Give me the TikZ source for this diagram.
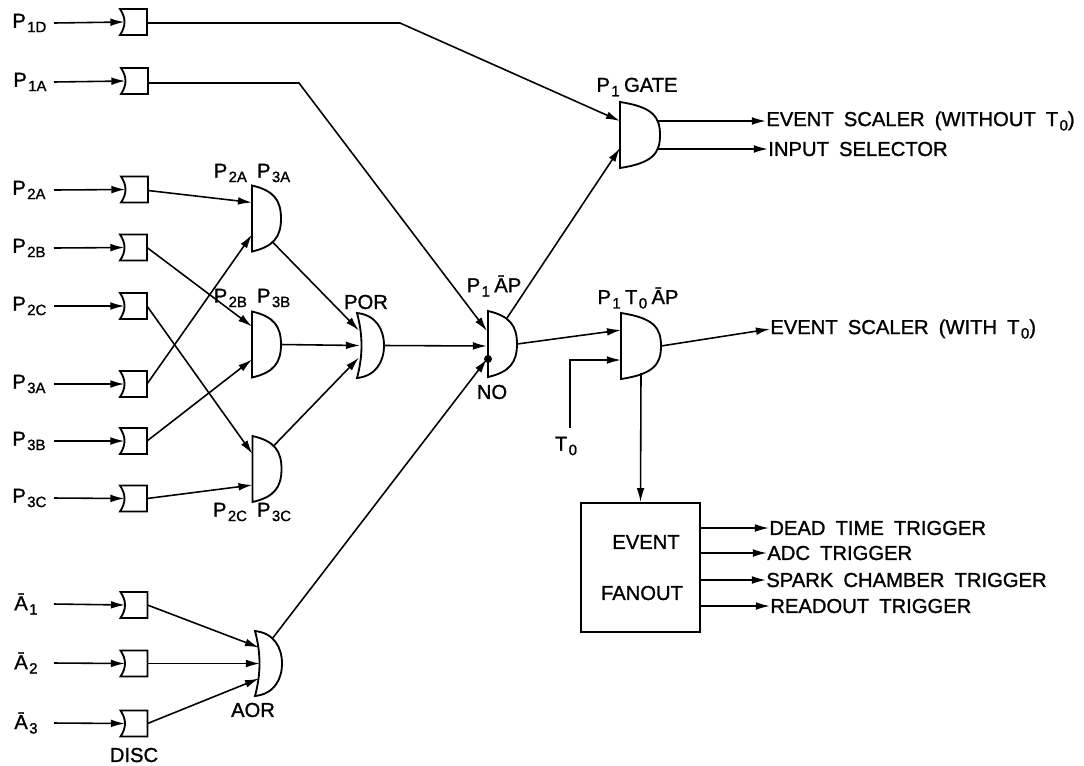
\documentclass[tikz,border=0pt]{standalone}
\usepackage{fontspec}
\setmainfont{Liberation Sans}[BoldFont={Liberation Sans},BoldFeatures={FakeBold=1.2}]
\usepackage{tikz}
\usetikzlibrary{arrows.meta, calc}

\newcommand{\lblfont}{\fontsize{11.5}{13}\bfseries\selectfont\setlength{\spaceskip}{.5em}}
\tikzset{
  wire/.style={line width=0.9pt},
  sig/.style={wire,-{Latex[length=8pt,width=4.4pt]}},
  lbl/.style={inner sep=0pt,font=\lblfont,anchor=west},
  shp/.style={line width=1.05pt,fill=white},
  pin/.style={inner sep=0pt,outer sep=0pt}
}
% subscript as printed
\newcommand{\subt}[1]{\hspace{0.8pt}\raisebox{-2.5pt}{\fontsize{8.5}{9}\bfseries\selectfont #1}}
% discriminator box, hollow on its input side
\newcommand{\discbox}[2]{
  \node[pin,minimum width=0.54cm,minimum height=0.52cm] (#1) at (#2) {};
  \draw[shp] (#1.north west) .. controls ($(#1.west)+(6,-4)$) and ($(#1.west)+(6,4)$) .. (#1.south west)
    -- (#1.south east) -- (#1.north east) -- cycle;
  \coordinate (#1-in) at ($(#1.west)+(4.5,0)$);
}
% and gate: flat back, round nose
\newcommand{\andgate}[3]{
  \node[pin,minimum width=#3cm,minimum height=1.32cm] (#1) at (#2) {};
  \draw[shp] (#1.north west) .. controls ($(#1.north east)+(-7,5)$) and ($(#1.east)+(0,-18)$) .. (#1.east)
    .. controls ($(#1.east)+(0,18)$) and ($(#1.south east)+(-7,-5)$) .. (#1.south west) -- cycle;
}
% or gate: hollow back, round nose
\newcommand{\orgate}[2]{
  \node[pin,minimum width=0.54cm,minimum height=1.3cm] (#1) at (#2) {};
  \draw[shp] (#1.north west) .. controls ($(#1.north east)+(-8,2)$) and ($(#1.east)+(0,-16)$) .. (#1.east)
    .. controls ($(#1.east)+(0,16)$) and ($(#1.south east)+(-8,-2)$) .. (#1.south west)
    .. controls ($(#1.west)+(6,10)$) and ($(#1.west)+(6,-10)$) .. (#1.north west) -- cycle;
}

\begin{document}
\begin{tikzpicture}[x=0.02cm,y=-0.02cm]
  \useasboundingbox (0,0) rectangle (1084,765);
  \coordinate (inx) at (54,0);

  % Input labels
  \node[lbl] (lP1D) at (12,23) {P\subt{1D}};
  \node[lbl] (lP1A) at (13,82) {P\subt{1A}};
  \node[lbl] (lP2A) at (12,190) {P\subt{2A}};
  \node[lbl] (lP2B) at (12,248) {P\subt{2B}};
  \node[lbl] (lP2C) at (12,306) {P\subt{2C}};
  \node[lbl] (lP3A) at (12,384) {P\subt{3A}};
  \node[lbl] (lP3B) at (12,441) {P\subt{3B}};
  \node[lbl] (lP3C) at (12,498) {P\subt{3C}};
  \node[lbl] (lA1) at (14,604) {Ā\subt{1}};
  \node[lbl] (lA2) at (14,663) {Ā\subt{2}};
  \node[lbl] (lA3) at (14,723) {Ā\subt{3}};

  % Discriminators
  \discbox{dP1D}{133.5,22}
  \discbox{dP1A}{134.5,81}
  \discbox{dP2A}{134.5,189.5}
  \discbox{dP2B}{133.5,247.5}
  \discbox{dP2C}{133.5,306}
  \discbox{dP3A}{133.5,384}
  \discbox{dP3B}{133.5,441}
  \discbox{dP3C}{133.5,498.5}
  \discbox{dA1}{134,605}
  \discbox{dA2}{134,663.5}
  \discbox{dA3}{134,723.5}

  % Gates
  \andgate{g2A}{266.5,218.5}{0.58}
  \andgate{g2B}{266.5,344.5}{0.58}
  \andgate{g2C}{267,469}{0.58}
  \orgate{gPOR}{370.5,345.5}
  \orgate{gAOR}{268.5,663.5}
  \andgate{gAP}{502.5,344}{0.58}
  \andgate{gGATE}{640,135}{0.8}
  \andgate{gT0}{641,346}{0.8}
  \node[draw,line width=1.05pt,minimum width=2.38cm,minimum height=2.58cm,inner sep=0pt] (fan) at (640.5,567.5) {};

  % Inputs
  \foreach \a/\b in {lP1D/dP1D,lP1A/dP1A,lP2A/dP2A,lP2B/dP2B,lP2C/dP2C,lP3A/dP3A,lP3B/dP3B,lP3C/dP3C,lA1/dA1,lA2/dA2,lA3/dA3}
    \draw[sig] (\a.east -| inx) -- (\b-in);

  % Scaler side
  \coordinate (bP1D) at (400,23);
  \coordinate (bP1A) at (299,83);
  \draw[sig] (dP1D.east |- bP1D) -- (bP1D) -- ($(gGATE.west)+(0,-14)$);
  \draw[sig] (dP1A.east |- bP1A) -- (bP1A) -- ($(gAP.west)+(-1,-13)$);
  \draw[sig] ($(gAP.north east)+(-10,7)$) -- ($(gGATE.west)+(0,13)$);

  % Coincidences
  \draw[sig] ($(dP2A.east)+(0,1)$) -- ($(g2A.west)+(0,-16)$);
  \draw[sig] (dP2B.east) -- ($(g2B.west)+(0,-18)$);
  \draw[sig] (dP2C.east) -- ($(g2C.west)+(0,-15)$);
  \draw[sig] (dP3A.east) -- ($(g2A.west)+(0,16)$);
  \draw[sig] (dP3B.east) -- ($(g2B.west)+(0,15)$);
  \draw[sig] (dP3C.east) -- ($(g2C.west)+(0,16)$);

  % Or of the coincidences
  \draw[sig] ($(g2A.south east)+(-8,-9)$) -- ($(gPOR.west)+(2,-15)$);
  \draw[sig] (g2B.east) -- ($(gPOR.west)+(3,0)$);
  \draw[sig] ($(g2C.north east)+(-8,10)$) -- ($(gPOR.west)+(2,12)$);
  \draw[sig] (gPOR.east) -- ($(gAP.west)+(-1,2)$);

  % Veto
  \draw[sig] (dA1.east) -- ($(gAOR.west)+(4,-16)$);
  \draw[sig] (dA2.east) -- ($(gAOR.west)+(5,0)$);
  \draw[sig] (dA3.east) -- ($(gAOR.west)+(4,15)$);
  \draw[sig] ($(gAOR.north east)+(-10,8)$) -- ($(gAP.west)+(-1,15)$);
  \fill ($(gAP.west)+(0,15)$) circle (4);

  % Event
  \coordinate (t0c) at (570,360);
  \coordinate (t0s) at (570,428);
  \coordinate (gT0d) at (641,373);
  \node[lbl,anchor=center] (lT0) at (566,446) {T\subt{0}};
  \draw[sig] (t0s) -- (t0c) -- ($(gT0.west)+(0,14)$);
  \draw[sig] (gAP.east) -- ($(gT0.west)+(0,-16)$);
  \draw[sig] (gT0d) -- (fan.north);

  % Outputs
  \node[lbl] (oES) at (766,121) {EVENT SCALER (WITHOUT T\subt{0})};
  \node[lbl] (oIS) at (768,149) {INPUT SELECTOR};
  \node[lbl] (oEW) at (770,329) {EVENT SCALER (WITH T\subt{0})};
  \node[lbl] (oDT) at (769,528) {DEAD TIME TRIGGER};
  \node[lbl] (oADC) at (767,553) {ADC TRIGGER};
  \node[lbl] (oSC) at (766,580) {SPARK CHAMBER TRIGGER};
  \node[lbl] (oRO) at (770,606) {READOUT TRIGGER};
  \draw[sig] ($(gGATE.east |- oES.west)+(-3,0)$) -- (oES.west);
  \draw[sig] ($(gGATE.east |- oIS.west)+(-3,0)$) -- (oIS.west);
  \draw[sig] (gT0.east) -- (oEW.west);
  \draw[sig] (fan.east |- oDT.west) -- (oDT.west);
  \draw[sig] (fan.east |- oADC.west) -- (oADC.west);
  \draw[sig] (fan.east |- oSC.west) -- (oSC.west);
  \draw[sig] (fan.east |- oRO.west) -- (oRO.west);

  % Gate labels
  \node[lbl,anchor=center] (t2A) at (252,173) {P\subt{2A} P\subt{3A}};
  \node[lbl,anchor=center] (t2B) at (252,298) {P\subt{2B} P\subt{3B}};
  \node[lbl,anchor=center] (t2C) at (252,512) {P\subt{2C} P\subt{3C}};
  \node[lbl,anchor=center] (tPOR) at (366,302) {POR};
  \node[lbl,anchor=center] (tAP) at (494,286) {P\subt{1}\hspace{2.5pt}ĀP};
  \node[lbl,anchor=center] (tNO) at (492,392) {NO};
  \node[lbl,anchor=center] (tAOR) at (253,710) {AOR};
  \node[lbl,anchor=center] (tDISC) at (134,755) {DISC};
  \node[lbl,anchor=center] (tGATE) at (637,87) {P\subt{1}\hspace{2.5pt}GATE};
  \node[lbl,anchor=center] (tT0) at (638,298) {P\subt{1}\hspace{2.5pt}T\subt{0}\hspace{2.5pt}ĀP};
  \node[lbl,anchor=center] (tEV) at (646,542) {EVENT};
  \node[lbl,anchor=center] (tFO) at (642,593) {FANOUT};
\end{tikzpicture}
\end{document}
